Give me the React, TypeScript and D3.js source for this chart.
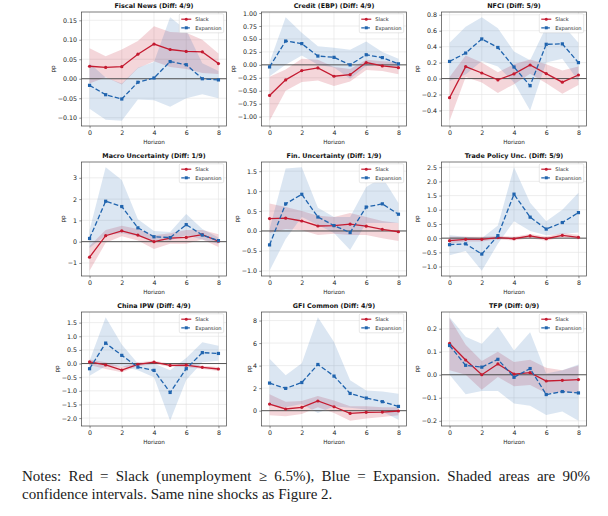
import { useEffect, useRef } from "react";
import * as d3 from "d3";

// Horizons and panel titles
const horizons = [0, 1, 2, 3, 4, 5, 6, 7, 8];
const xTickValues = [0, 2, 4, 6, 8];
const shockTitles = [
  "Fiscal News (Diff: 4/9)",
  "Credit (EBP) (Diff: 4/9)",
  "NFCI (Diff: 5/9)",
  "Macro Uncertainty (Diff: 1/9)",
  "Fin. Uncertainty (Diff: 1/9)",
  "Trade Policy Unc. (Diff: 5/9)",
  "China IPW (Diff: 4/9)",
  "GFI Common (Diff: 4/9)",
  "TFP (Diff: 0/9)",
];
const legendLabels = ["Slack", "Expansion"];

// Slack regime: point estimates and 90% bands
const slack = [
  [0.032, 0.029, 0.031, 0.063, 0.089, 0.075, 0.07, 0.069, 0.039],
  [-0.59, -0.29, -0.11, -0.06, -0.22, -0.19, 0.045, -0.02, -0.055],
  [-0.24, 0.15, 0.07, -0.017, 0.058, 0.17, 0.062, -0.045, 0.045],
  [-0.73, 0.28, 0.51, 0.31, 0.0, 0.17, 0.2, 0.33, 0.02],
  [0.31, 0.32, 0.25, 0.125, 0.135, 0.17, 0.12, 0.04, -0.02],
  [-0.09, -0.04, -0.04, 0.02, -0.02, 0.08, -0.02, 0.1, 0.03],
  [0.06, -0.05, -0.24, -0.03, 0.05, -0.07, -0.06, -0.14, -0.2],
  [0.59, 0.15, 0.3, 0.86, 0.35, -0.24, -0.15, -0.12, -0.03],
  [0.136, 0.064, 0.0, 0.047, 0.003, 0.009, -0.027, -0.024, -0.021],
];
const slackLow = [
  [-0.012, 0.004, -0.015, 0.027, 0.045, 0.03, 0.025, 0.015, 0.012],
  [-1.08, -0.5, -0.33, -0.3, -0.41, -0.32, -0.1, -0.12, -0.18],
  [-0.53, 0.02, -0.05, -0.18, -0.07, 0.06, -0.06, -0.19, -0.08],
  [-1.37, -0.05, 0.25, 0.05, -0.35, -0.1, -0.1, 0.1, -0.25],
  [-0.05, 0.05, 0.02, -0.1, -0.07, -0.1, -0.1, -0.18, -0.25],
  [-0.2, -0.12, -0.12, -0.04, -0.08, 0.0, -0.09, 0.03, -0.05],
  [-0.05, -0.2, -0.32, -0.1, -0.02, -0.12, -0.13, -0.2, -0.27],
  [-0.4, -0.5, -0.3, 0.3, -0.2, -0.9, -0.7, -0.55, -0.4],
  [0.02, 0.0, -0.065, -0.01, -0.05, -0.045, -0.08, -0.075, -0.08],
];
const slackHigh = [
  [0.078, 0.058, 0.075, 0.097, 0.135, 0.12, 0.118, 0.1, 0.065],
  [-0.23, -0.09, 0.12, 0.1, -0.04, -0.08, 0.1, 0.07, 0.05],
  [0.02, 0.29, 0.2, 0.08, 0.18, 0.24, 0.18, 0.1, 0.15],
  [-0.2, 0.55, 0.75, 0.6, 0.3, 0.4, 0.55, 0.55, 0.35],
  [0.69, 0.6, 0.5, 0.38, 0.35, 0.45, 0.35, 0.25, 0.2],
  [0.05, 0.05, 0.05, 0.08, 0.05, 0.15, 0.06, 0.18, 0.12],
  [0.15, 0.05, -0.12, 0.05, 0.1, 0.0, 0.02, -0.08, -0.13],
  [1.45, 0.8, 0.85, 1.3, 0.9, 0.4, 0.4, 0.3, 0.3],
  [0.245, 0.13, 0.06, 0.1, 0.055, 0.065, 0.03, 0.02, 0.04],
];

// Expansion regime
const expansion = [
  [-0.017, -0.041, -0.052, -0.009, 0.002, 0.044, 0.036, 0.0, -0.003],
  [-0.04, 0.46, 0.41, 0.17, 0.145, 0.0, 0.195, 0.14, 0.02],
  [0.215, 0.32, 0.497, 0.39, 0.145, -0.09, 0.43, 0.435, 0.2],
  [0.15, 1.9, 1.65, 0.65, 0.23, 0.19, 0.8, 0.31, 0.05],
  [-0.35, 0.68, 0.92, 0.35, 0.135, -0.04, 0.6, 0.68, 0.42],
  [-0.23, -0.2, -0.56, 0.09, 1.55, 0.74, 0.32, 0.55, 0.9],
  [-0.19, 0.75, 0.3, -0.13, -0.25, -1.06, -0.19, 0.4, 0.37],
  [2.45, 1.98, 2.5, 4.1, 3.07, 1.53, 1.12, 0.8, 0.38],
  [0.127, 0.041, 0.033, 0.067, -0.011, 0.027, -0.086, -0.073, -0.079],
];
const expansionLow = [
  [-0.077, -0.105, -0.108, -0.053, -0.055, -0.072, -0.05, -0.04, -0.05],
  [-0.22, 0.0, 0.18, 0.0, -0.05, -0.27, -0.02, 0.0, -0.08],
  [-0.03, 0.05, 0.22, 0.15, -0.05, -0.4, 0.2, 0.25, -0.03],
  [-0.3, 0.3, 0.4, 0.25, 0.05, 0.05, 0.3, 0.1, -0.1],
  [-1.0, -0.2, 0.35, 0.15, -0.05, -0.48, 0.2, 0.2, 0.2],
  [-0.6, -0.45, -1.15, -0.2, 0.6, 0.25, 0.1, 0.15, 0.2],
  [-0.45, -0.1, -0.1, -0.25, -0.5, -2.1, -0.6, 0.05, 0.1],
  [0.5, 0.3, 0.6, -0.2, 0.4, 0.25, 0.1, -0.1, -0.8],
  [0.0, -0.085, -0.07, -0.07, -0.125, -0.135, -0.175, -0.16, -0.2],
];
const expansionHigh = [
  [0.04, 0.003, -0.012, 0.028, 0.043, 0.158, 0.125, 0.04, 0.02],
  [0.05, 0.92, 0.62, 0.36, 0.33, 0.29, 0.45, 0.25, 0.12],
  [0.45, 0.65, 0.77, 0.63, 0.34, 0.23, 0.65, 0.68, 0.45],
  [0.55, 3.5, 2.9, 1.05, 0.5, 0.45, 1.3, 0.6, 0.2],
  [0.05, 1.57, 1.6, 0.58, 0.35, 0.35, 1.1, 1.35, 0.7],
  [0.1, 0.05, 0.0, 0.45, 2.5, 1.25, 0.6, 1.0, 1.6],
  [0.1, 1.7, 0.7, 0.0, 0.0, -0.25, 0.2, 0.78, 0.65],
  [4.6, 3.15, 4.2, 8.3, 6.1, 2.7, 1.8, 1.7, 1.5],
  [0.25, 0.165, 0.135, 0.21, 0.105, 0.185, 0.005, 0.02, 0.045],
];

// y tick values and formats per panel
const yTickValues = [
  [-0.1, -0.05, 0, 0.05, 0.1, 0.15],
  [-1, -0.75, -0.5, -0.25, 0, 0.25, 0.5, 0.75, 1],
  [-0.4, -0.2, 0, 0.2, 0.4, 0.6, 0.8],
  [-1, 0, 1, 2, 3],
  [-1, -0.5, 0, 0.5, 1, 1.5],
  [-1, -0.5, 0, 0.5, 1, 1.5, 2, 2.5],
  [-2, -1.5, -1, -0.5, 0, 0.5, 1, 1.5],
  [0, 2, 4, 6, 8],
  [-0.2, -0.1, 0, 0.1, 0.2],
];
const yTickFormats = [".2f", ".2f", ".1f", "d", ".1f", ".1f", ".1f", "d", ".1f"];

const notesLines = [
  "Notes: Red = Slack (unemployment \u2265 6.5%), Blue = Expansion. Shaded areas are 90%",
  "confidence intervals. Same nine shocks as Figure 2.",
];

const RED = "#c41a30";
const BLUE = "#2064ae";
const FONT = "DejaVu Sans";

export default function App() {
  const ref = useRef<SVGSVGElement>(null);

  useEffect(() => {
    if (!ref.current) return;
    const svg = d3.select(ref.current);
    svg.selectAll("*").remove();

    const pw = 145;
    const ph = 114;

    shockTitles.forEach((title, i) => {
      const col = i % 3;
      const row = Math.floor(i / 3);
      const left = 81.5 + col * 180;
      const top = 12 + row * 150;

      const all = [...slackLow[i], ...slackHigh[i], ...expansionLow[i], ...expansionHigh[i]];
      const lo = d3.min(all)!;
      const hi = d3.max(all)!;
      const pad = (hi - lo) * 0.05;

      const x = d3.scaleLinear().domain([-0.5, 8.5]).range([0, pw]);
      const y = d3.scaleLinear().domain([lo - pad, hi + pad]).range([ph, 0]);

      const g = svg.append("g").attr("transform", `translate(${left},${top})`);

      // grid
      g.selectAll(".gy")
        .data(yTickValues[i])
        .enter()
        .append("line")
        .attr("x1", 0)
        .attr("x2", pw)
        .attr("y1", (d) => y(d))
        .attr("y2", (d) => y(d))
        .attr("stroke", "#e3e3e3")
        .attr("stroke-width", 0.6);
      g.selectAll(".gx")
        .data(xTickValues)
        .enter()
        .append("line")
        .attr("x1", (d) => x(d))
        .attr("x2", (d) => x(d))
        .attr("y1", 0)
        .attr("y2", ph)
        .attr("stroke", "#e3e3e3")
        .attr("stroke-width", 0.6);

      // bands
      const area = (low: number[], high: number[]) =>
        d3
          .area<number>()
          .x((d) => x(d))
          .y0((d) => y(low[d]))
          .y1((d) => y(high[d]))(horizons);

      g.append("path").attr("d", area(slackLow[i], slackHigh[i])!).attr("fill", RED).attr("fill-opacity", 0.18);
      g.append("path").attr("d", area(expansionLow[i], expansionHigh[i])!).attr("fill", BLUE).attr("fill-opacity", 0.16);

      // zero line
      g.append("line")
        .attr("x1", 0)
        .attr("x2", pw)
        .attr("y1", y(0))
        .attr("y2", y(0))
        .attr("stroke", "#444")
        .attr("stroke-width", 0.9);

      const line = (vals: number[]) =>
        d3
          .line<number>()
          .x((d) => x(d))
          .y((d) => y(vals[d]))(horizons);

      // slack line
      g.append("path").attr("d", line(slack[i])!).attr("fill", "none").attr("stroke", RED).attr("stroke-width", 1.3);
      g.selectAll(".ms")
        .data(horizons)
        .enter()
        .append("circle")
        .attr("cx", (d) => x(d))
        .attr("cy", (d) => y(slack[i][d]))
        .attr("r", 1.6)
        .attr("fill", RED);

      // expansion line
      g.append("path")
        .attr("d", line(expansion[i])!)
        .attr("fill", "none")
        .attr("stroke", BLUE)
        .attr("stroke-width", 1.3)
        .attr("stroke-dasharray", "4.8,2.2");
      g.selectAll(".me")
        .data(horizons)
        .enter()
        .append("rect")
        .attr("x", (d) => x(d) - 1.6)
        .attr("y", (d) => y(expansion[i][d]) - 1.6)
        .attr("width", 3.2)
        .attr("height", 3.2)
        .attr("fill", BLUE);

      // frame
      g.append("rect")
        .attr("width", pw)
        .attr("height", ph)
        .attr("fill", "none")
        .attr("stroke", "#444")
        .attr("stroke-width", 0.7);

      // axes
      const fmt = d3.format(yTickFormats[i]);
      const yAxis = g
        .append("g")
        .call(
          d3
            .axisLeft(y)
            .tickValues(yTickValues[i])
            .tickSize(2.2)
            .tickPadding(2.2)
            .tickFormat((d) => fmt(d as number).replace("-", "\u2212"))
        );
      yAxis.select(".domain").remove();
      yAxis.selectAll("line").attr("stroke", "#444").attr("stroke-width", 0.6);
      yAxis.selectAll("text").attr("font-family", FONT).attr("font-size", 6.3).attr("fill", "#222");

      const xAxis = g
        .append("g")
        .attr("transform", `translate(0,${ph})`)
        .call(d3.axisBottom(x).tickValues(xTickValues).tickSize(2.2).tickPadding(2.2).tickFormat(d3.format("d")));
      xAxis.select(".domain").remove();
      xAxis.selectAll("line").attr("stroke", "#444").attr("stroke-width", 0.6);
      xAxis.selectAll("text").attr("font-family", FONT).attr("font-size", 6.3).attr("fill", "#222");

      // labels
      const yBox = (yAxis.node() as SVGGElement).getBBox();
      g.append("text")
        .attr("transform", `translate(${yBox.x - 2.5},${ph / 2}) rotate(-90)`)
        .attr("text-anchor", "middle")
        .attr("font-family", FONT)
        .attr("font-size", 5.7)
        .attr("fill", "#222")
        .text("pp");

      g.append("text")
        .attr("x", pw / 2)
        .attr("y", ph + 18)
        .attr("text-anchor", "middle")
        .attr("font-family", FONT)
        .attr("font-size", 5.7)
        .attr("fill", "#222")
        .text("Horizon");

      g.append("text")
        .attr("x", pw / 2)
        .attr("y", -3.8)
        .attr("text-anchor", "middle")
        .attr("font-family", FONT)
        .attr("font-weight", "bold")
        .attr("font-size", 6.4)
        .attr("fill", "#111")
        .text(title);

      // legend
      const lg = g.append("g");
      const box = lg.append("rect");
      const texts = legendLabels.map((lab, k) =>
        lg
          .append("text")
          .attr("x", 16)
          .attr("y", 5.4 + k * 8.6 + 1.8)
          .attr("font-family", FONT)
          .attr("font-size", 5.1)
          .attr("fill", "#222")
          .text(lab)
      );
      const tw = d3.max(texts, (t) => (t.node() as SVGTextElement).getComputedTextLength())!;
      const bw = 16 + tw + 2.2;
      const bh = 19;
      box
        .attr("width", bw)
        .attr("height", bh)
        .attr("rx", 1.5)
        .attr("fill", "white")
        .attr("fill-opacity", 0.85)
        .attr("stroke", "#cfcfcf")
        .attr("stroke-width", 0.5);
      lg.attr("transform", `translate(${pw - 2.8 - bw},${1.8})`);
      [RED, BLUE].forEach((c, k) => {
        const cy = 5.4 + k * 8.6;
        lg.append("line")
          .attr("x1", 2)
          .attr("x2", 12)
          .attr("y1", cy)
          .attr("y2", cy)
          .attr("stroke", c)
          .attr("stroke-width", 1.2)
          .attr("stroke-dasharray", k === 1 ? "3.5,1.6" : null);
        if (k === 0) lg.append("circle").attr("cx", 7).attr("cy", cy).attr("r", 1.5).attr("fill", c);
        else lg.append("rect").attr("x", 5.5).attr("y", cy - 1.5).attr("width", 3).attr("height", 3).attr("fill", c);
      });
    });

    // notes
    const notesLeft = 22;
    const notesRight = 590;
    notesLines.forEach((txt, k) => {
      const t = svg
        .append("text")
        .attr("x", notesLeft)
        .attr("y", 481 + k * 18)
        .attr("font-family", "Liberation Serif")
        .attr("font-size", 15)
        .attr("fill", "#1a1a1a")
        .text(txt);
      if (k === 0) {
        const natural = (t.node() as SVGTextElement).getComputedTextLength();
        const spaces = txt.split(" ").length - 1;
        t.attr("word-spacing", (notesRight - notesLeft - natural) / spaces);
      }
    });
  }, []);

  return (
    <div style={{ position: "absolute", left: 0, top: 0, background: "white" }}>
      <svg ref={ref} width={608} height={516} style={{ display: "block" }} />
    </div>
  );
}
